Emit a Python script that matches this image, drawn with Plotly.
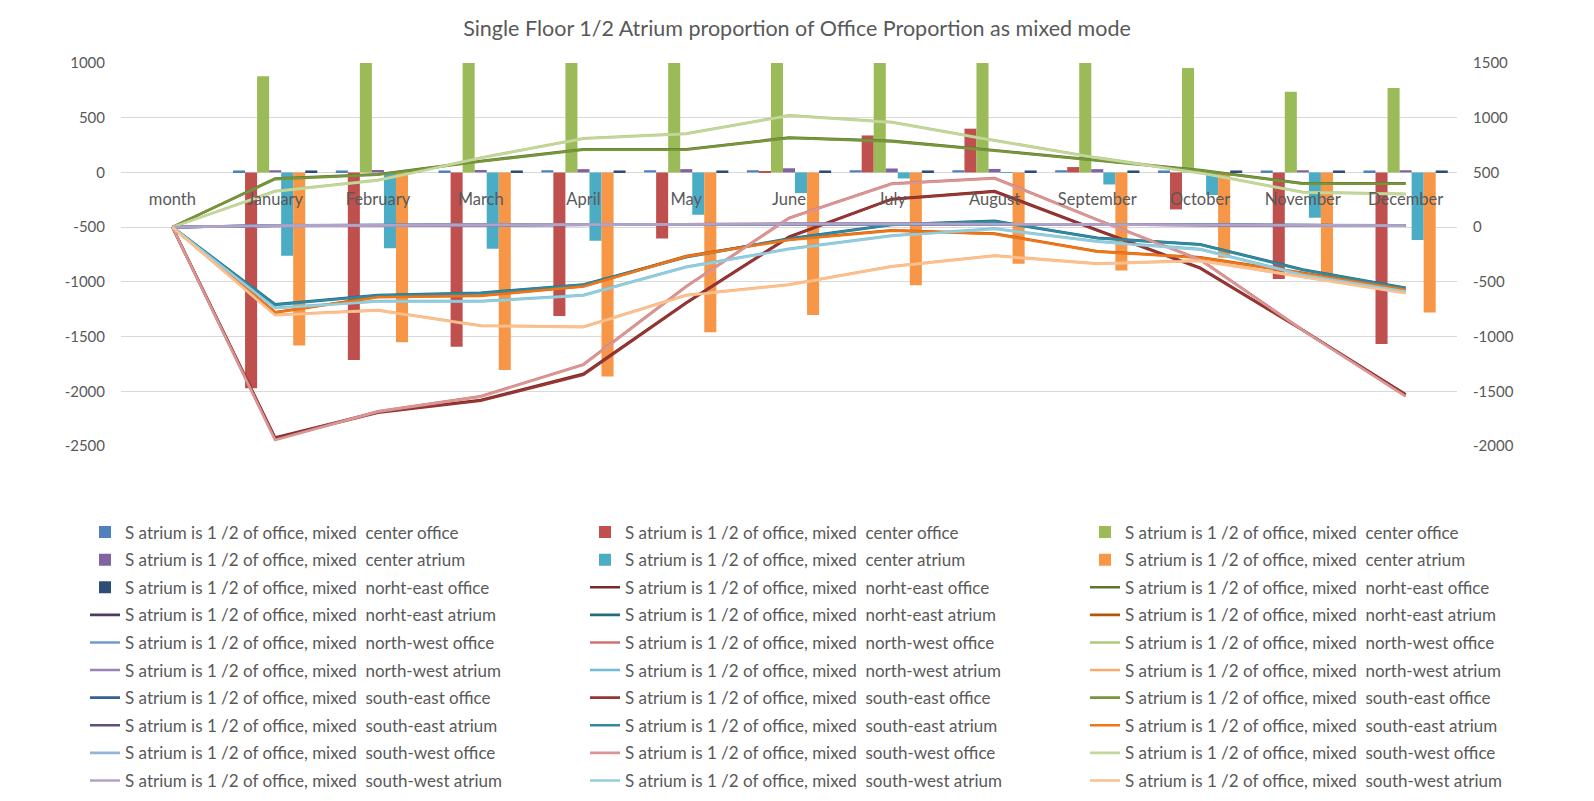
import plotly.graph_objects as go

months = ["month", "January", "February", "March", "April", "May", "June",
          "July", "August", "September", "October", "November", "December"]

left_ticks = [-2500, -2000, -1500, -1000, -500, 0, 500, 1000]
right_ticks = [-2000, -1500, -1000, -500, 0, 500, 1000, 1500]

# ---- bars (primary axis) ----
center_office_a = [0, 18, 18, 18, 20, 20, 20, 20, 20, 20, 18, 18, 18]
center_office_b = [0, -1972, -1713, -1592, -1311, -604, 8, 338, 400, 49, -338, -973, -1567]
center_office_c = [0, 878, 1150, 1200, 1250, 1280, 1350, 1300, 1250, 1180, 954, 738, 771]
center_atrium_a = [0, 20, 22, 22, 30, 30, 38, 36, 32, 30, 22, 20, 20]
center_atrium_b = [0, -762, -692, -698, -625, -387, -189, -55, -5, -110, -207, -414, -617]
center_atrium_c = [0, -1582, -1552, -1805, -1866, -1460, -1302, -1031, -835, -896, -780, -960, -1280]
ne_office_a = [0, 18, 18, 18, 18, 18, 18, 18, 18, 18, 18, 18, 18]

# ---- lines (secondary axis) ----
ne_office_b = [0, -1922, -1690, -1580, -1340, -690, -88, 258, 330, -26, -370, -940, -1528]
ne_office_c = [0, 444, 484, 604, 712, 712, 818, 788, 702, 611, 522, 400, 400]
ne_atrium_a = [0, 14, 17, 20, 25, 27, 29, 29, 27, 24, 20, 16, 14]
ne_atrium_b = [0, -706, -620, -600, -524, -271, -104, 24, 57, -98, -156, -387, -554]
ne_atrium_c = [0, -777, -636, -624, -539, -265, -113, -28, -59, -220, -276, -417, -569]
nw_office_a = [0, 15, 18, 21, 25, 27, 29, 29, 27, 25, 21, 17, 15]
nw_office_b = [0, -1940, -1682, -1545, -1254, -541, 84, 398, 449, 69, -296, -940, -1543]
nw_office_c = [0, 330, 431, 635, 812, 855, 1022, 961, 794, 635, 498, 321, 304]
nw_atrium_a = [0, 12, 16, 20, 26, 28, 30, 30, 28, 24, 20, 15, 13]
nw_atrium_b = [0, -737, -676, -676, -621, -363, -198, -77, -13, -129, -201, -433, -585]
nw_atrium_c = [0, -801, -758, -899, -910, -621, -524, -357, -259, -332, -304, -454, -600]
se_office_a = [0, 16, 19, 21, 25, 27, 29, 29, 27, 25, 21, 17, 16]
se_office_b = [0, -1930, -1695, -1586, -1349, -695, -93, 254, 324, -32, -376, -944, -1531]
se_office_c = [0, 439, 479, 600, 707, 707, 814, 784, 698, 607, 518, 396, 396]
se_atrium_a = [0, 13, 16, 20, 26, 28, 30, 30, 28, 24, 20, 15, 13]
se_atrium_b = [0, -710, -625, -604, -528, -275, -108, 20, 53, -102, -160, -391, -558]
se_atrium_c = [0, -781, -640, -628, -543, -269, -117, -32, -63, -224, -280, -421, -573]
sw_office_a = [0, 15, 18, 21, 25, 27, 29, 29, 27, 25, 21, 17, 15]
sw_office_b = [0, -1945, -1686, -1549, -1258, -545, 80, 394, 445, 65, -300, -944, -1547]
sw_office_c = [0, 326, 427, 631, 808, 851, 1018, 957, 790, 631, 494, 317, 300]
sw_atrium_a = [0, 12, 16, 20, 26, 28, 30, 30, 28, 24, 20, 15, 13]
sw_atrium_b = [0, -741, -680, -680, -625, -367, -202, -81, -17, -133, -205, -437, -589]
sw_atrium_c = [0, -805, -762, -903, -914, -625, -528, -361, -263, -336, -308, -458, -604]

prefix = "S atrium is 1 /2 of office, mixed \u00a0"
zones = ["center office", "center atrium", "norht-east office", "norht-east atrium",
         "north-west office", "north-west atrium", "south-east office", "south-east atrium",
         "south-west office", "south-west atrium"]

values = [
    center_office_a, center_office_b, center_office_c,
    center_atrium_a, center_atrium_b, center_atrium_c,
    ne_office_a, ne_office_b, ne_office_c,
    ne_atrium_a, ne_atrium_b, ne_atrium_c,
    nw_office_a, nw_office_b, nw_office_c,
    nw_atrium_a, nw_atrium_b, nw_atrium_c,
    se_office_a, se_office_b, se_office_c,
    se_atrium_a, se_atrium_b, se_atrium_c,
    sw_office_a, sw_office_b, sw_office_c,
    sw_atrium_a, sw_atrium_b, sw_atrium_c,
]

colors = [
    "#4F81BD", "#C0504D", "#9BBB59", "#8064A2", "#4BACC6", "#F79646",
    "#2C4D75", "#772C2A", "#5F7530", "#4D3B62", "#276A7C", "#B65708",
    "#729ACA", "#CD7371", "#AFC97A", "#9983B5", "#6FBDD1", "#F9AB6B",
    "#376095", "#973533", "#77953B", "#614C7B", "#32889F", "#EF7519",
    "#95B3D7", "#D99694", "#C3D69B", "#B3A2C7", "#93CDDD", "#FAC090",
]

N_BARS = 7
legend_ids = ["legend", "legend2", "legend3"]

fig = go.Figure()
for i, vals in enumerate(values):
    name = prefix + zones[i // 3]
    leg = legend_ids[i % 3]
    if i < N_BARS:
        fig.add_trace(go.Bar(
            x=months, y=vals, name=name, marker=dict(color=colors[i], line=dict(width=0)),
            legend=leg, legendgroup="g%d" % i, yaxis="y", xaxis="x"))
    else:
        fig.add_trace(go.Scatter(
            x=months, y=vals, name=name, mode="lines",
            line=dict(color=colors[i], width=2.6),
            legend=leg, legendgroup="g%d" % i, yaxis="y2", xaxis="x"))

W, H = 1594, 801
LEG_FONT = 17
legend_common = dict(xref="container", yref="container", xanchor="left", yanchor="top",
                     traceorder="grouped", tracegroupgap=27.6 - (1.3 * LEG_FONT + 3),
                     itemwidth=30,
                     font=dict(size=LEG_FONT, color="#595959"), bgcolor="rgba(0,0,0,0)",
                     y=1 - 514.5 / H)

fig.update_layout(
    width=W, height=H,
    margin=dict(l=121, r=137, t=63, b=355, autoexpand=False),
    paper_bgcolor="white", plot_bgcolor="white",
    font=dict(family="Lato, 'Liberation Sans', sans-serif", color="#595959", size=15),
    title=dict(text="Single Floor 1/2 Atrium proportion of Office Proportion as mixed mode",
               x=0.5, xref="container", xanchor="center",
               y=1 - 28 / H, yref="container", yanchor="middle",
               font=dict(size=21.5, color="#595959")),
    barmode="group", bargap=0.18, bargroupgap=0,
    xaxis=dict(type="category", categoryorder="array", categoryarray=months,
               range=[-0.5, 12.5], anchor="free", position=2500 / 3500,
               showgrid=False, showline=False, zeroline=False,
               ticks="outside", ticklen=12, tickcolor="rgba(0,0,0,0)",
               tickfont=dict(size=16.5, color="#595959")),
    yaxis=dict(range=[-2500, 1000], tickmode="array", tickvals=left_ticks,
               ticktext=[str(v) for v in left_ticks],
               gridcolor="#D9D9D9", gridwidth=1,
               zeroline=False, showline=False, ticks="outside", ticklen=12,
               tickcolor="rgba(0,0,0,0)", tickfont=dict(size=15, color="#595959")),
    yaxis2=dict(range=[-2000, 1500], tickmode="array", tickvals=right_ticks,
                ticktext=[str(v) for v in right_ticks],
                overlaying="y", side="right",
                showgrid=False, zeroline=False, showline=False, ticks="outside", ticklen=12,
                tickcolor="rgba(0,0,0,0)", tickfont=dict(size=15, color="#595959")),
    legend=dict(x=85 / W, **legend_common),
    legend2=dict(x=585 / W, **legend_common),
    legend3=dict(x=1085 / W, **legend_common),
)

fig.write_html("out.html", config={"displayModeBar": False},
               post_script="document.body.style.margin='0';")
